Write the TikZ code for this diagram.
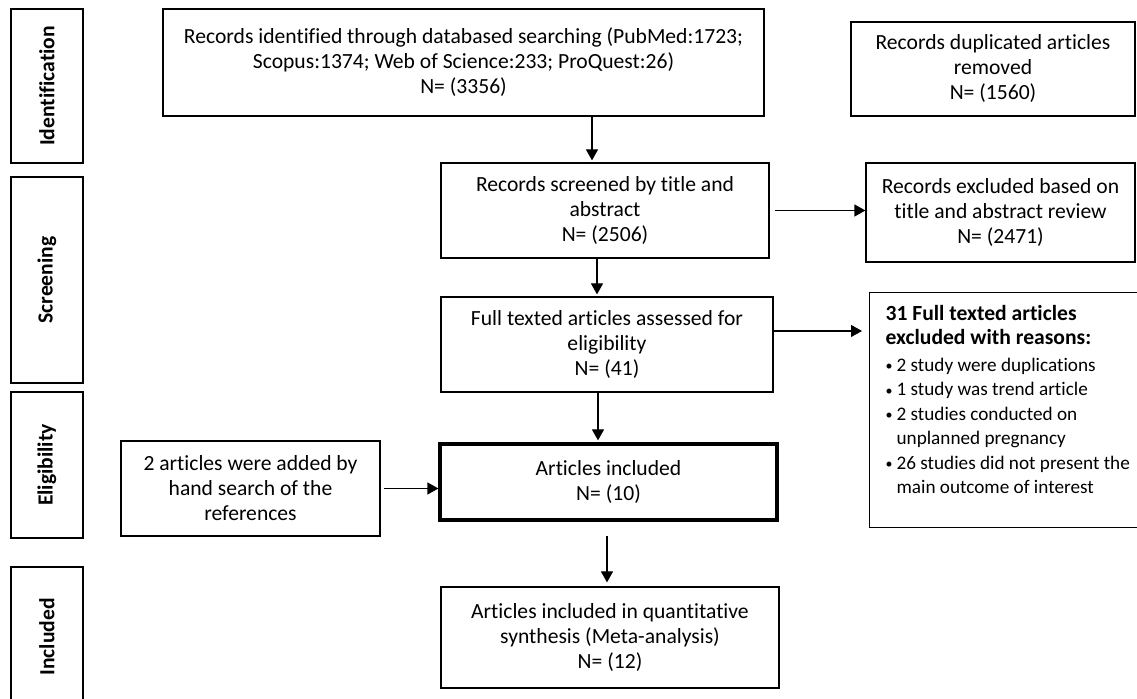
\documentclass[tikz,border=0pt]{standalone}
\usepackage{fontspec}
\setmainfont{Carlito}[RawFeature={-liga;-clig;-calt;-dlig}]
\usetikzlibrary{positioning,arrows.meta}

\begin{document}
\begin{tikzpicture}[%
	x=0.5pt, y=-0.5pt,
	->, >={Triangle[length=5.5pt,width=6pt]},
	line width=0.6pt, align=center,
	box/.style={draw, inner sep=0pt, font=\fontsize{10.8}{12.5}\selectfont},
	boldbox/.style={box, line width=1.6pt},
	sidebox/.style={draw, rotate=90, inner sep=0pt, minimum height=36pt,
		font=\fontsize{10.8}{12.5}\selectfont\bfseries},
	listbox/.style={box, align=left, anchor=north west, inner xsep=8pt}
	]
	\useasboundingbox (0,0) rectangle (1137,699);
	
	% phase labels
	\node[sidebox, minimum width=77pt] (idlab) at (47,86) {Identification};
	\node[sidebox, minimum width=103pt] (scrlab) at (47,280) {Screening};
	\node[sidebox, minimum width=73pt] (eliglab) at (47,465) {Eligibility};
	\node[sidebox, minimum width=70pt] (incllab) at (47,637) {Included};
	
	% main column
	\node[box, minimum width=300.5pt, minimum height=53.5pt] (found) at (463.5,62.5)
		{Records identified through databased searching (PubMed:1723;\\
		 Scopus:1374; Web of Science:233; ProQuest:26)\\ N= (3356)};
	
	\node[box, minimum width=142pt, minimum height=47pt] (dupl) at (993,69)
		{Records duplicated articles\\ removed\\ N= (1560)};
	
	\node[box, minimum width=164pt, minimum height=47.5pt] (screened) at (605,210.5)
		{Records screened by title and\\ abstract\\ N= (2506)};
	
	\node[box, minimum width=134.5pt, minimum height=49.5pt] (excl) at (1000.5,212.5)
		{Records excluded based on\\ title and abstract review\\ N= (2471)};
	
	\node[box, minimum width=166pt, minimum height=47.5pt] (fulltext) at (607,344.5)
		{Full texted articles assessed for\\ eligibility\\ N= (41)};
	
	\node[listbox, minimum width=133pt, minimum height=117.5pt] (reasons) at (869,292)
		{\fontsize{9.6}{12.25}\selectfont
		 \begin{tabular}{@{}l@{}l@{}}
		 \multicolumn{2}{@{}l@{}}{\fontsize{10.8}{12.5}\selectfont\bfseries 31 Full texted articles}\\
		 \multicolumn{2}{@{}l@{}}{\fontsize{10.8}{12.5}\selectfont\bfseries excluded with reasons:}\\[1pt]
		 \makebox[5.5pt][l]{\fontsize{7}{7}\selectfont\raisebox{0.6pt}{•}} & 2 study were duplications\\
		 \makebox[5.5pt][l]{\fontsize{7}{7}\selectfont •} & 1 study was trend article\\
		 \makebox[5.5pt][l]{\fontsize{7}{7}\selectfont\raisebox{0.6pt}{•}} & 2 studies conducted on\\
		 & unplanned pregnancy\\
		 \makebox[5.5pt][l]{\fontsize{7}{7}\selectfont\raisebox{0.6pt}{•}} & 26 studies did not present the\\
		 & main outcome of interest\\[8pt]
		 \end{tabular}};
	
	\node[box, minimum width=129.5pt, minimum height=47.5pt] (hand) at (250.5,488.5)
		{2 articles were added by\\ hand search of the\\ references};
	
	\node[boldbox, minimum width=168.5pt, minimum height=38pt] (included) at (608.5,482)
		{Articles included\\ N= (10)};
	
	\node[box, minimum width=169pt, minimum height=50.5pt] (meta) at (610,637.5)
		{Articles included in quantitative\\ synthesis (Meta-analysis)\\ N= (12)};
	
	% arrows
	\draw[shorten >=1pt] ([xshift=-6.5pt]screened.north |- found.south) -- ([xshift=-6.5pt]screened.north);
	\draw[shorten <=2.5pt] (screened.east) -- (screened.east -| excl.west);
	\draw[shorten >=1pt] ([xshift=-5pt]fulltext.north |- screened.south) -- ([xshift=-5pt]fulltext.north);
	\draw[shorten >=3.5pt] ([yshift=6.75pt]fulltext.east) -- ([yshift=6.75pt]fulltext.east -| reasons.west);
	\draw[shorten >=1pt] ([xshift=-5.25pt]included.north |- fulltext.south) -- ([xshift=-5.25pt]included.north);
	\draw[shorten <=1.5pt] (hand.east) -- (hand.east -| included.west);
	\draw[shorten <=7pt, shorten >=2pt] ([xshift=-0.75pt]included.south) -- ([xshift=-0.75pt]included.south |- meta.north);
\end{tikzpicture}
\end{document}
